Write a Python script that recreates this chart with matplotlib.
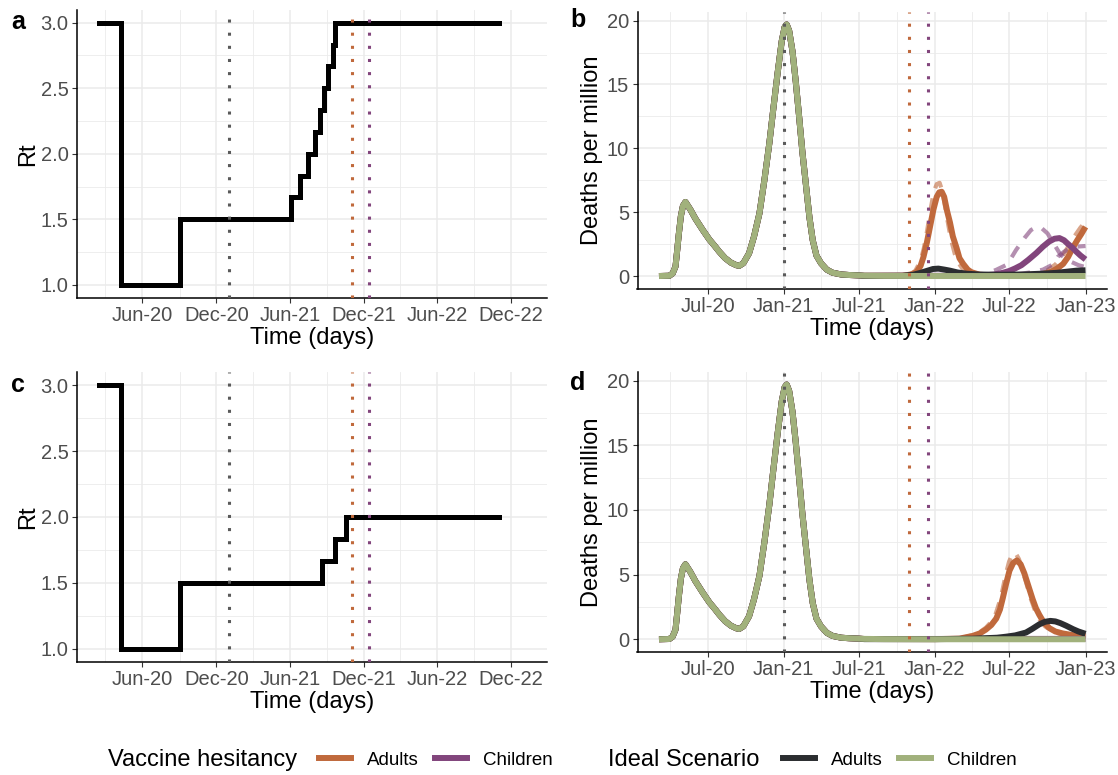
import numpy as np
import pandas as pd
import matplotlib
matplotlib.use("Agg")
import matplotlib.pyplot as plt
import matplotlib.dates as mdates
from matplotlib.lines import Line2D

plt.rcParams["font.family"] = ["Liberation Sans", "DejaVu Sans"]

ORANGE = "#C0693C"
PURPLE = "#82457C"
BLACK = "#2B2D30"
GREEN = "#A1B17C"
GREY = "#5A5A5A"

# ===== DATA =====

# Rt scenarios (step changes)
rt_a_dates = ["2020-02-14", "2020-04-08", "2020-09-01", "2021-06-05", "2021-06-27",
              "2021-07-16", "2021-08-02", "2021-08-14", "2021-08-25", "2021-09-04",
              "2021-09-15", "2021-09-21", "2022-11-01"]
rt_a_vals = [3.0, 1.0, 1.5, 1.667, 1.833, 2.0, 2.167, 2.333, 2.5, 2.667, 2.833, 3.0, 3.0]

rt_c_dates = ["2020-02-14", "2020-04-08", "2020-09-01", "2021-08-21", "2021-09-21",
              "2021-10-19", "2022-11-01"]
rt_c_vals = [3.0, 1.0, 1.5, 1.667, 1.833, 2.0, 2.0]

# shared first two waves (deaths per million)
wave_dates = ["2020-03-05", "2020-03-30", "2020-04-07", "2020-04-14", "2020-04-18",
              "2020-04-22", "2020-04-27", "2020-05-02", "2020-05-08", "2020-05-20",
              "2020-06-01", "2020-06-10", "2020-06-19", "2020-07-05", "2020-07-18",
              "2020-07-29", "2020-08-12", "2020-08-26", "2020-09-08", "2020-09-15",
              "2020-09-25", "2020-10-09", "2020-10-21", "2020-11-03", "2020-11-15",
              "2020-11-27", "2020-12-07", "2020-12-17", "2020-12-27", "2021-01-03",
              "2021-01-08", "2021-01-14", "2021-01-22", "2021-01-30", "2021-02-07",
              "2021-02-15", "2021-02-24", "2021-03-04", "2021-03-12", "2021-03-21",
              "2021-04-01", "2021-04-15", "2021-04-29", "2021-05-20", "2021-06-08",
              "2021-07-01"]
wave_vals = [0.0, 0.02, 0.2, 0.75, 2.0, 3.3, 4.7, 5.5, 5.8, 5.2,
             4.5, 4.05, 3.6, 2.85, 2.35, 1.9, 1.4, 1.05, 0.85, 0.8,
             1.0, 1.78, 3.1, 4.9, 7.5, 10.4, 13.2, 15.9, 18.4, 19.5,
             19.7, 19.2, 17.6, 15.2, 12.5, 9.7, 7.0, 4.6, 2.8, 1.6,
             1.0, 0.5, 0.26, 0.12, 0.08, 0.05]

# panel b tails (after mid 2021)
b_vh_adults_dates = ["2021-07-15", "2021-10-15", "2021-10-28", "2021-11-08", "2021-11-19",
                     "2021-11-28", "2021-12-05", "2021-12-13", "2021-12-21", "2021-12-29",
                     "2022-01-06", "2022-01-12", "2022-01-18", "2022-01-24", "2022-01-31",
                     "2022-02-07", "2022-02-14", "2022-02-23", "2022-03-02", "2022-03-11",
                     "2022-03-22", "2022-03-31", "2022-04-20", "2022-05-15", "2022-07-01",
                     "2022-09-15", "2022-10-10", "2022-10-25", "2022-11-08", "2022-11-20",
                     "2022-12-01", "2022-12-12", "2022-12-22", "2023-01-01"]
b_vh_adults_vals = [0.02, 0.03, 0.08, 0.15, 0.34, 0.8, 1.5, 2.6, 3.9, 5.2,
                    6.2, 6.55, 6.6, 6.2, 5.1, 4.2, 3.1, 2.2, 1.4, 0.95,
                    0.5, 0.3, 0.1, 0.05, 0.04, 0.12, 0.33, 0.6, 0.95, 1.5,
                    2.2, 2.8, 3.3, 3.85]

b_vh_adults_alt_dates = ["2021-07-15", "2021-11-01", "2021-11-15", "2021-11-28", "2021-12-06",
                         "2021-12-14", "2021-12-22", "2021-12-30", "2022-01-06", "2022-01-13",
                         "2022-01-20", "2022-01-27", "2022-02-03", "2022-02-10", "2022-02-19",
                         "2022-02-28", "2022-03-10", "2022-03-25", "2022-04-15", "2022-06-01",
                         "2022-09-01", "2022-10-01", "2022-10-20", "2022-11-05", "2022-11-20",
                         "2022-12-05", "2022-12-20", "2023-01-01"]
b_vh_adults_alt_vals = [0.02, 0.1, 0.4, 1.2, 2.2, 3.6, 5.2, 6.6, 7.2, 7.3,
                        6.6, 5.3, 4.0, 2.8, 1.7, 1.0, 0.55, 0.22, 0.08, 0.04,
                        0.15, 0.45, 0.9, 1.5, 2.3, 3.1, 3.8, 4.25]

b_vh_children_dates = ["2021-07-15", "2022-04-01", "2022-05-01", "2022-05-25", "2022-06-15",
                       "2022-07-01", "2022-07-15", "2022-07-30", "2022-08-15", "2022-09-04",
                       "2022-09-20", "2022-10-05", "2022-10-18", "2022-10-30", "2022-11-10",
                       "2022-11-20", "2022-12-01", "2022-12-10", "2022-12-20", "2023-01-01"]
b_vh_children_vals = [0.02, 0.02, 0.05, 0.12, 0.25, 0.4, 0.6, 0.85, 1.25, 1.8,
                      2.3, 2.7, 2.92, 2.97, 2.8, 2.5, 2.2, 1.9, 1.6, 1.3]

b_vh_children_hi_dates = ["2022-04-01", "2022-05-01", "2022-05-29", "2022-06-23", "2022-07-05",
                          "2022-07-17", "2022-08-07", "2022-08-22", "2022-09-05", "2022-09-15",
                          "2022-10-01", "2022-10-15", "2022-10-31", "2022-11-15", "2022-11-28",
                          "2022-12-15", "2023-01-01"]
b_vh_children_hi_vals = [0.03, 0.15, 0.47, 0.86, 1.4, 2.04, 3.0, 3.6, 3.85, 3.8,
                         3.34, 2.6, 1.75, 1.3, 1.1, 0.85, 0.7]

b_vh_children_lo_dates = ["2022-04-01", "2022-06-01", "2022-07-15", "2022-08-22", "2022-09-20",
                          "2022-10-14", "2022-10-26", "2022-11-10", "2022-11-25", "2022-12-10",
                          "2023-01-01"]
b_vh_children_lo_vals = [0.02, 0.05, 0.12, 0.29, 0.5, 0.9, 1.5, 1.9, 2.2, 2.3, 2.35]

b_ideal_adults_dates = ["2021-07-15", "2021-10-15", "2021-11-10", "2021-11-28", "2021-12-13",
                        "2021-12-28", "2022-01-10", "2022-01-25", "2022-02-07", "2022-02-25",
                        "2022-03-20", "2022-04-20", "2022-06-01", "2022-08-01", "2022-09-15",
                        "2022-10-23", "2022-11-20", "2022-12-10", "2023-01-01"]
b_ideal_adults_vals = [0.01, 0.02, 0.1, 0.25, 0.4, 0.55, 0.58, 0.5, 0.42, 0.28,
                       0.18, 0.12, 0.1, 0.12, 0.18, 0.25, 0.35, 0.42, 0.45]

ideal_children_dates = ["2021-07-15", "2021-09-01", "2022-01-01", "2023-01-01"]
ideal_children_vals = [0.03, 0.01, 0.0, 0.0]

# panel d tails
d_vh_adults_dates = ["2021-07-15", "2022-01-01", "2022-03-02", "2022-04-03", "2022-04-20",
                     "2022-05-05", "2022-05-18", "2022-05-30", "2022-06-08", "2022-06-15",
                     "2022-06-23", "2022-07-01", "2022-07-10", "2022-07-19", "2022-07-28",
                     "2022-08-06", "2022-08-16", "2022-08-26", "2022-09-03", "2022-09-11",
                     "2022-09-22", "2022-10-06", "2022-10-20", "2022-11-07", "2022-12-01",
                     "2023-01-01"]
d_vh_adults_vals = [0.02, 0.01, 0.05, 0.26, 0.45, 0.75, 1.1, 1.6, 2.3, 3.2,
                    4.3, 5.3, 5.9, 6.1, 5.8, 5.1, 4.1, 3.1, 2.4, 1.9,
                    1.3, 0.85, 0.6, 0.45, 0.32, 0.25]

d_vh_adults_alt_dates = ["2022-03-01", "2022-04-01", "2022-04-20", "2022-05-05", "2022-05-18",
                         "2022-05-28", "2022-06-06", "2022-06-14", "2022-06-22", "2022-06-30",
                         "2022-07-08", "2022-07-15", "2022-07-24", "2022-08-02", "2022-08-12",
                         "2022-08-22", "2022-09-01", "2022-09-12", "2022-09-25", "2022-10-10",
                         "2022-11-01", "2022-12-01", "2023-01-01"]
d_vh_adults_alt_vals = [0.05, 0.3, 0.55, 0.9, 1.35, 1.9, 2.8, 3.8, 5.0, 6.0,
                        6.6, 6.7, 6.2, 5.3, 4.2, 3.1, 2.2, 1.5, 1.0, 0.65,
                        0.4, 0.28, 0.2]

d_vh_children_dates = ["2021-07-15", "2023-01-01"]
d_vh_children_vals = [0.02, 0.03]

d_ideal_adults_dates = ["2021-07-15", "2022-01-01", "2022-04-01", "2022-06-01", "2022-06-23",
                        "2022-07-15", "2022-08-10", "2022-08-25", "2022-09-11", "2022-09-25",
                        "2022-10-08", "2022-10-20", "2022-11-01", "2022-11-15", "2022-12-02",
                        "2022-12-15", "2023-01-01"]
d_ideal_adults_vals = [0.01, 0.01, 0.04, 0.12, 0.2, 0.3, 0.52, 0.8, 1.15, 1.35,
                       1.42, 1.38, 1.25, 1.05, 0.78, 0.6, 0.42]

# intervention dates (dotted lines)
vline_dates = ["2021-01-01", "2021-11-01", "2021-12-15"]
vline_colors = [GREY, ORANGE, PURPLE]

# ===== END DATA =====

W, H = 1118, 775
fig = plt.figure(figsize=(W / 100, H / 100), dpi=100)


def px_axes(left, top, right, bottom):
    return fig.add_axes([left / W, 1 - bottom / H, (right - left) / W, (bottom - top) / H])


def with_wave(dates, vals):
    d = pd.to_datetime(wave_dates + dates)
    return d, np.array(wave_vals + vals)


def style_axes(ax, major_months, minor_months):
    for s in ["top", "right"]:
        ax.spines[s].set_visible(False)
    for s in ["left", "bottom"]:
        ax.spines[s].set_linewidth(1.1)
        ax.spines[s].set_color("black")
    ax.xaxis.set_major_locator(mdates.MonthLocator(bymonth=major_months))
    ax.xaxis.set_minor_locator(mdates.MonthLocator(bymonth=minor_months))
    ax.xaxis.set_major_formatter(mdates.DateFormatter("%b-%y"))
    ax.grid(True, which="major", color="#EBEBEB", lw=1.1, zorder=0)
    ax.grid(True, which="minor", color="#EBEBEB", lw=0.6, zorder=0)
    ax.set_axisbelow(True)
    ax.tick_params(which="major", length=3.5, width=0.8, color="#333333",
                   labelsize=14.5, labelcolor="#4D4D4D", pad=2.5)
    ax.tick_params(which="minor", length=0)
    ax.set_xlabel("Time (days)", fontsize=17, labelpad=1.5)
    for d, c in zip(vline_dates, vline_colors):
        ax.axvline(pd.Timestamp(d), color=c, lw=2.2, ls=(0, (1, 3.3)),
                   dash_capstyle="butt", zorder=4)


def rt_panel(ax, dates, vals):
    ax.plot(pd.to_datetime(dates), vals, drawstyle="steps-post", color="black",
            lw=3.6, zorder=3, solid_joinstyle="miter")
    ax.set_xlim(pd.Timestamp("2019-12-22"), pd.Timestamp("2023-02-28"))
    ax.set_ylim(0.9, 3.1)
    ax.set_yticks([1.0, 1.5, 2.0, 2.5, 3.0])
    ax.set_yticks([1.25, 1.75, 2.25, 2.75], minor=True)
    ax.yaxis.set_major_formatter(plt.FuncFormatter(lambda v, p: f"{v:.1f}"))
    style_axes(ax, (6, 12), (3, 9))
    ax.set_ylabel("Rt", fontsize=17, labelpad=1)


def deaths_panel(ax, solid, dashed):
    for d, v, c in dashed:
        ax.plot(d, v, color=c, lw=3.0, alpha=0.6, ls=(0, (3, 2.5)), zorder=2)
    for d, v, c in solid:
        ax.plot(d, v, color=c, lw=4.3, zorder=3, solid_joinstyle="round",
                solid_capstyle="butt")
    ax.set_xlim(pd.Timestamp("2020-01-13"), pd.Timestamp("2023-02-22"))
    ax.set_ylim(-0.985, 20.7)
    ax.set_yticks([0, 5, 10, 15, 20])
    ax.set_yticks([2.5, 7.5, 12.5, 17.5], minor=True)
    style_axes(ax, (1, 7), (4, 10))
    ax.set_ylabel("Deaths per million", fontsize=17, labelpad=3)


ax_a = px_axes(77, 9.5, 547, 298)
rt_panel(ax_a, rt_a_dates, rt_a_vals)
ax_c = px_axes(77, 372, 547, 662)
rt_panel(ax_c, rt_c_dates, rt_c_vals)

ax_b = px_axes(637.5, 11.7, 1107, 288.6)
b_solid = [
    (*with_wave(b_vh_adults_dates, b_vh_adults_vals), ORANGE),
    (*with_wave(b_vh_children_dates, b_vh_children_vals), PURPLE),
    (*with_wave(b_ideal_adults_dates, b_ideal_adults_vals), BLACK),
    (*with_wave(ideal_children_dates, ideal_children_vals), GREEN),
]
b_dashed = [
    (pd.to_datetime(b_vh_adults_alt_dates), b_vh_adults_alt_vals, ORANGE),
    (pd.to_datetime(b_vh_children_hi_dates), b_vh_children_hi_vals, PURPLE),
    (pd.to_datetime(b_vh_children_lo_dates), b_vh_children_lo_vals, PURPLE),
]
deaths_panel(ax_b, b_solid, b_dashed)

ax_d = px_axes(637.5, 371.6, 1107, 652)
d_solid = [
    (*with_wave(d_vh_adults_dates, d_vh_adults_vals), ORANGE),
    (*with_wave(d_vh_children_dates, d_vh_children_vals), PURPLE),
    (*with_wave(d_ideal_adults_dates, d_ideal_adults_vals), BLACK),
    (*with_wave(ideal_children_dates, ideal_children_vals), GREEN),
]
d_dashed = [
    (pd.to_datetime(d_vh_adults_alt_dates), d_vh_adults_alt_vals, ORANGE),
]
deaths_panel(ax_d, d_solid, d_dashed)

# panel letters
for letter, x, y in [("a", 18, 22), ("b", 578, 20), ("c", 18, 385), ("d", 578, 383)]:
    fig.text(x / W, 1 - y / H, letter, fontsize=18, fontweight="bold", va="center", ha="center")

# legends
fig.text(108 / W, 1 - 760 / H, "Vaccine hesitancy", fontsize=17, va="center", ha="left")
fig.text(608 / W, 1 - 760 / H, "Ideal Scenario", fontsize=17, va="center", ha="left")
leg_kw = dict(ncol=2, frameon=False, fontsize=13.5, handlelength=1.7, handletextpad=0.85,
              columnspacing=0.9, borderpad=0, borderaxespad=0, loc="center left")
fig.legend(handles=[Line2D([], [], color=ORANGE, lw=4.3), Line2D([], [], color=PURPLE, lw=4.3)],
           labels=["Adults", "Children"], bbox_to_anchor=(319 / W, 1 - 760 / H), **leg_kw)
fig.legend(handles=[Line2D([], [], color=BLACK, lw=4.3), Line2D([], [], color=GREEN, lw=4.3)],
           labels=["Adults", "Children"], bbox_to_anchor=(783 / W, 1 - 760 / H), **leg_kw)

fig.savefig("out.png", dpi=100)
